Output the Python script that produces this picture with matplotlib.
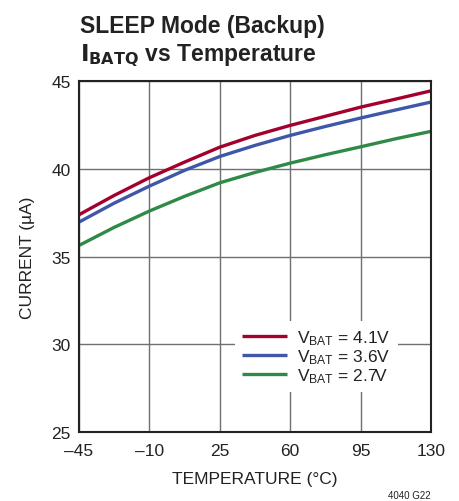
import matplotlib
matplotlib.use("Agg")
import matplotlib.pyplot as plt
from matplotlib import font_manager

names = {f.name for f in font_manager.fontManager.ttflist}
FONT = 'Liberation Sans Narrow' if 'Liberation Sans Narrow' in names else 'Liberation Sans'
plt.rcParams['font.family'] = [FONT, 'DejaVu Sans']

temps = [-45, -27.5, -10, 7.5, 25, 42.5, 60, 77.5, 95, 112.5, 130]
i_41 = [37.38, 38.48, 39.49, 40.38, 41.23, 41.90, 42.47, 42.99, 43.51, 43.97, 44.44]
i_36 = [36.96, 38.04, 39.01, 39.91, 40.70, 41.33, 41.90, 42.41, 42.89, 43.35, 43.80]
i_27 = [35.63, 36.66, 37.59, 38.43, 39.20, 39.79, 40.32, 40.80, 41.25, 41.71, 42.13]
labels = ['$\\mathregular{V_{BAT}}$ = 4.1V', '$\\mathregular{V_{BAT}}$ = 3.6V', '$\\mathregular{V_{BAT}}$ = 2.7V']
colors = ['#A3002D', '#3F57A8', '#2F8A48']
xticks = [-45, -10, 25, 60, 95, 130]
yticks = [25, 30, 35, 40, 45]

fig = plt.figure(figsize=(4.6, 5.02), dpi=100)
ax = fig.add_axes([79/460, 1-433/502, 352/460, 351/502])

for ys, lab, c in zip([i_41, i_36, i_27], labels, colors):
    ax.plot(temps, ys, color=c, lw=2.4, label=lab, solid_capstyle='butt')

ax.set_xlim(-45, 130)
ax.set_ylim(25, 45)
ax.set_xticks(xticks)
ax.set_xticklabels(['\u2013' + str(-t) if t < 0 else str(t) for t in xticks])
ax.set_yticks(yticks)
ax.grid(True, color='#707070', lw=1.0)
ax.set_axisbelow(True)
ax.tick_params(length=0, labelsize=12.5, colors='#222222')
ax.tick_params(axis='x', pad=8)
ax.tick_params(axis='y', pad=6)
for s in ax.spines.values():
    s.set_linewidth(1.5)
    s.set_color('#222222')

ax.set_xlabel('TEMPERATURE (°C)', fontsize=12.5, color='#222222', labelpad=9)
ax.set_ylabel('CURRENT (µA)', fontsize=12.5, color='#222222', labelpad=12)

leg = ax.legend(loc='lower right', bbox_to_anchor=(0.905, 0.114), frameon=True,
                facecolor='white', edgecolor='none', framealpha=1, fancybox=False,
                fontsize=12.5, handlelength=2.6, handletextpad=0.6, labelspacing=0.02,
                borderpad=0.4, borderaxespad=0)
for t in leg.get_texts():
    t.set_color('#222222')

fig.text(80/460, 1-33/502, 'SLEEP Mode (Backup)', fontsize=16.5, fontweight='bold', color='#222222')
fig.text(80/460, 1-61/502, '$\\mathbf{I_{BATQ}}$ vs Temperature', fontsize=16.5, fontweight='bold', color='#222222')
fig.text(431/460, 1-499/502, '4040 G22', fontsize=7, ha='right', color='#222222')

fig.savefig('out.png', dpi=100)
